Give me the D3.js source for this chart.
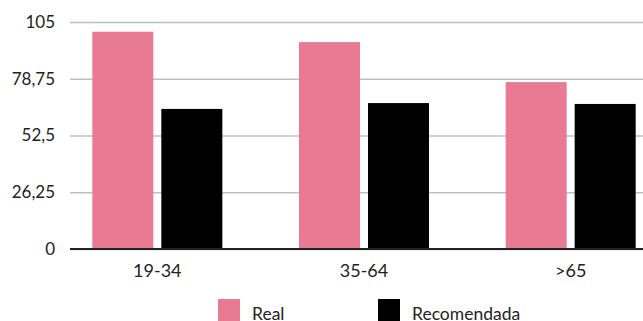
<!DOCTYPE html>
<html>
<head>
<meta charset="utf-8">
<script src="https://cdn.jsdelivr.net/npm/d3@7"></script>
<style>
  html, body { margin: 0; padding: 0; background: #fff; }
  svg { display: block; font-family: Lato, "Noto Sans", sans-serif; }
</style>
</head>
<body>
<svg id="chart" width="643" height="321"></svg>
<script>
// Age groups and the two series compared in each group
const categories = ["19-34", "35-64", ">65"];
const seriesNames = ["Real", "Recomendada"];
const realValues = [100.5, 95.7, 77.2];
const recommendedValues = [64.8, 67.5, 67.1];
const yTicks = [0, 26.25, 52.5, 78.75, 105];
const colors = ["#e97a93", "#000000"];

const width = 643, height = 321;
const svg = d3.select("#chart");

const gridLeft = 70, gridRight = 643;
const yTop = 22, yBottom = 249;

const x = d3.scaleBand().domain(categories).range([54, 674]).paddingInner(0).paddingOuter(0);
const barW = 61, barGap = 8;
const inner = d3.scaleOrdinal().domain(seriesNames)
  .range([-(barW + barGap / 2), barGap / 2]);

const y = d3.scaleLinear().domain([0, 105]).range([yBottom, yTop]);

const fmt = v => String(v).replace(".", ",");

// Horizontal gridlines with tick labels
const yAxis = d3.axisLeft(y).tickValues(yTicks).tickFormat(fmt)
  .tickSize(-(gridRight - gridLeft)).tickPadding(15);
const gy = svg.append("g").attr("transform", `translate(${gridLeft},0)`).call(yAxis);
gy.select(".domain").remove();
gy.selectAll(".tick line").attr("stroke", "#bfbfbf").attr("stroke-width", 1.5);
gy.selectAll(".tick text").attr("fill", "#222").style("font-size", "17px")
  .attr("font-family", "Lato, sans-serif");

// Bars
const data = categories.map((c, i) => ({ cat: c, values: [realValues[i], recommendedValues[i]] }));
const groups = svg.append("g").selectAll("g").data(data).join("g")
  .attr("transform", d => `translate(${x(d.cat) + x.bandwidth() / 2},0)`);
groups.selectAll("rect")
  .data(d => d.values.map((v, j) => ({ name: seriesNames[j], value: v, color: colors[j] })))
  .join("rect")
  .attr("x", d => inner(d.name))
  .attr("width", barW)
  .attr("y", d => y(d.value))
  .attr("height", d => y(0) - y(d.value))
  .attr("fill", d => d.color);

// Baseline and category labels
svg.append("line").attr("x1", gridLeft).attr("x2", gridRight)
  .attr("y1", y(0)).attr("y2", y(0)).attr("stroke", "#222").attr("stroke-width", 2);

const xAxis = d3.axisBottom(x).tickSize(0).tickPadding(15);
const gx = svg.append("g").attr("transform", `translate(0,${y(0)})`).call(xAxis);
gx.select(".domain").remove();
gx.selectAll(".tick text").attr("fill", "#222").style("font-size", "18px")
  .attr("font-family", "Lato, sans-serif");

// Legend
const legendItems = [
  { name: seriesNames[0], color: colors[0], x: 218 },
  { name: seriesNames[1], color: colors[1], x: 378 }
];
const lg = svg.append("g").selectAll("g").data(legendItems).join("g")
  .attr("transform", d => `translate(${d.x},299)`);
lg.append("rect").attr("width", 22).attr("height", 22).attr("fill", d => d.color);
lg.append("text").attr("x", 34).attr("y", 21).text(d => d.name)
  .attr("fill", "#222").style("font-size", "17.5px");
</script>
</body>
</html>
